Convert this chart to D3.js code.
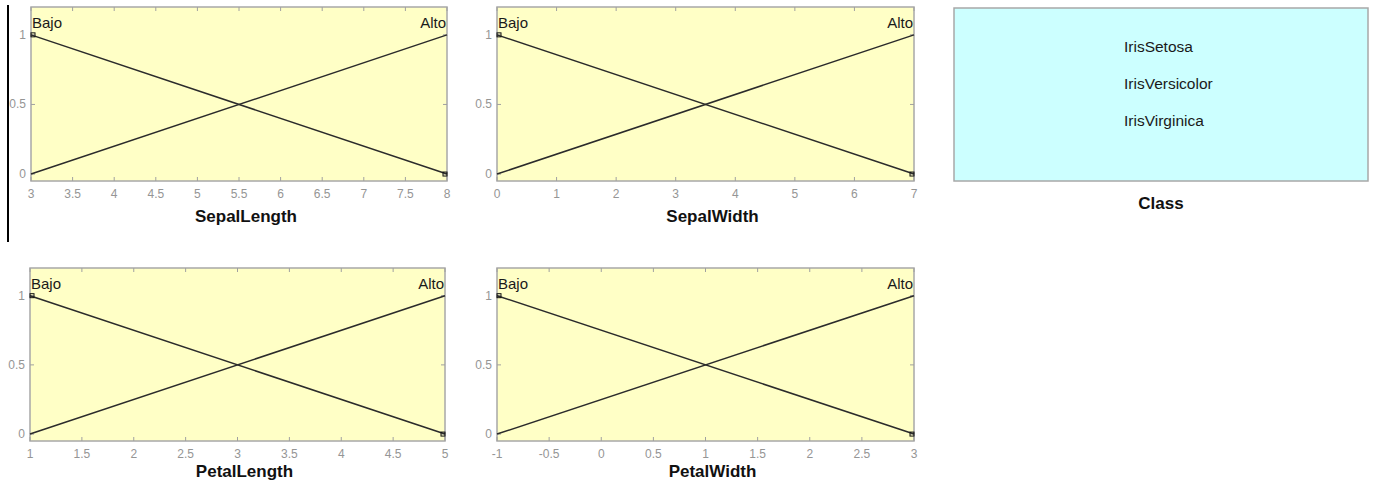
<!DOCTYPE html>
<html lang="es">
<head>
<meta charset="utf-8">
<title>Iris fuzzy variables</title>
<script src="https://d3js.org/d3.v7.min.js"></script>
<style>
  body { margin: 0; background: #fff; }
  .tick-label { font-family: "Liberation Sans", Arial, sans-serif; font-size: 12px; fill: #959595; }
  .mf-label { font-family: "Liberation Sans", Arial, sans-serif; font-size: 15px; fill: #1a1a1a; }
  .var-title { font-family: "Liberation Sans", Arial, sans-serif; font-size: 17px; font-weight: bold; fill: #111; }
  .class-name { font-family: "Liberation Sans", Arial, sans-serif; font-size: 15.5px; fill: #1a1a1a; }
</style>
</head>
<body>
<div id="chart"></div>
<script>
// ---- data ----
const variables = ["SepalLength", "SepalWidth", "PetalLength", "PetalWidth"];
const ranges = [[3, 8], [0, 7], [1, 5], [-1, 3]];
const xTicks = [
  [3, 3.5, 4, 4.5, 5, 5.5, 6, 6.5, 7, 7.5, 8],
  [0, 1, 2, 3, 4, 5, 6, 7],
  [1, 1.5, 2, 2.5, 3, 3.5, 4, 4.5, 5],
  [-1, -0.5, 0, 0.5, 1, 1.5, 2, 2.5, 3]
];
const yTicks = [0, 0.5, 1];
const mfNames = ["Bajo", "Alto"];
// membership at range start / range end
const mfBajo = [1, 0];
const mfAlto = [0, 1];
const classes = ["IrisSetosa", "IrisVersicolor", "IrisVirginica"];
const outputName = "Class";

// ---- layout ----
const W = 1375, H = 483;
const panels = [
  {x0: 31, x1: 447, y0: 7, y1: 181, titleGap: 41},
  {x0: 497, x1: 914, y0: 7, y1: 181, titleGap: 41},
  {x0: 30, x1: 445, y0: 268, y1: 441, titleGap: 36},
  {x0: 497, x1: 914, y0: 268, y1: 441, titleGap: 36}
];
const classBox = {x0: 954, x1: 1368, y0: 8, y1: 181};

const svg = d3.select("#chart").append("svg")
  .attr("width", W).attr("height", H);

// vertical black line at the left
svg.append("line")
  .attr("x1", 8).attr("x2", 8).attr("y1", 5).attr("y2", 242)
  .attr("stroke", "#000").attr("stroke-width", 2);

variables.forEach((name, i) => {
  const p = panels[i];
  const x = d3.scaleLinear().domain(ranges[i]).range([p.x0, p.x1]);
  const y = d3.scaleLinear().domain([-0.05, 1.2]).range([p.y1, p.y0]);
  const g = svg.append("g");

  g.append("rect")
    .attr("x", p.x0).attr("y", p.y0)
    .attr("width", p.x1 - p.x0).attr("height", p.y1 - p.y0)
    .attr("fill", "#ffffc6").attr("stroke", "#a8a8a8").attr("stroke-width", 1.5);

  // inner ticks on all four sides
  xTicks[i].forEach(t => {
    g.append("line").attr("x1", x(t)).attr("x2", x(t))
      .attr("y1", p.y1).attr("y2", p.y1 - 4).attr("stroke", "#a0a0a0");
    g.append("line").attr("x1", x(t)).attr("x2", x(t))
      .attr("y1", p.y0).attr("y2", p.y0 + 4).attr("stroke", "#a0a0a0");
    g.append("text").attr("class", "tick-label")
      .attr("x", x(t)).attr("y", p.y1 + 17)
      .attr("text-anchor", "middle").text(t);
  });
  yTicks.forEach(t => {
    g.append("line").attr("x1", p.x0).attr("x2", p.x0 + 4)
      .attr("y1", y(t)).attr("y2", y(t)).attr("stroke", "#a0a0a0");
    g.append("line").attr("x1", p.x1).attr("x2", p.x1 - 4)
      .attr("y1", y(t)).attr("y2", y(t)).attr("stroke", "#a0a0a0");
    g.append("text").attr("class", "tick-label")
      .attr("x", p.x0 - 5).attr("y", y(t) + 4)
      .attr("text-anchor", "end").text(t);
  });

  // membership functions
  const line = d3.line().x(d => x(d[0])).y(d => y(d[1]));
  [mfBajo, mfAlto].forEach(mf => {
    const pts = ranges[i].map((v, k) => [v, mf[k]]);
    g.append("path").attr("d", line(pts))
      .attr("fill", "none").attr("stroke", "#2b2b2b").attr("stroke-width", 1.5);
  });
  // small markers at the vertices of "Bajo"
  ranges[i].forEach((v, k) => {
    g.append("rect")
      .attr("x", x(v) - (k === 0 ? 0 : 4)).attr("y", y(mfBajo[k]) - 2)
      .attr("width", 4).attr("height", 4)
      .attr("fill", "none").attr("stroke", "#111").attr("stroke-width", 1);
  });

  g.append("text").attr("class", "mf-label")
    .attr("x", p.x0 + 1).attr("y", p.y0 + 21).text(mfNames[0]);
  g.append("text").attr("class", "mf-label")
    .attr("x", p.x1 - 1).attr("y", p.y0 + 21)
    .attr("text-anchor", "end").text(mfNames[1]);

  g.append("text").attr("class", "var-title")
    .attr("x", (p.x0 + p.x1) / 2 + 7).attr("y", p.y1 + p.titleGap)
    .attr("text-anchor", "middle").text(name);
});

// output variable box
svg.append("rect")
  .attr("x", classBox.x0).attr("y", classBox.y0)
  .attr("width", classBox.x1 - classBox.x0).attr("height", classBox.y1 - classBox.y0)
  .attr("fill", "#ccffff").attr("stroke", "#a8a8a8").attr("stroke-width", 1.5);

const cy = d3.scalePoint().domain(classes).range([46, 120]);
svg.selectAll(".class-name")
  .data(classes)
  .enter()
  .append("text")
  .attr("class", "class-name")
  .attr("x", 1124)
  .attr("y", d => cy(d) + 5.5)
  .text(d => d);

svg.append("text").attr("class", "var-title")
  .attr("x", (classBox.x0 + classBox.x1) / 2).attr("y", classBox.y1 + 28)
  .attr("text-anchor", "middle").text(outputName);
</script>
</body>
</html>
